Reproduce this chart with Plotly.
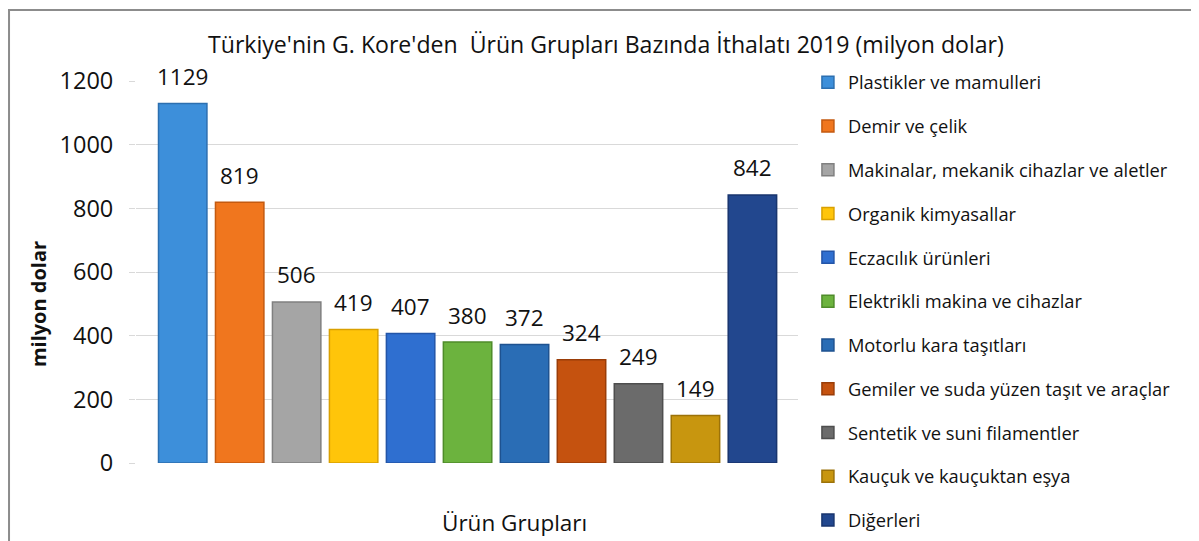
import plotly.graph_objects as go

categories = [
    "Plastikler ve mamulleri",
    "Demir ve çelik",
    "Makinalar, mekanik cihazlar ve aletler",
    "Organik kimyasallar",
    "Eczacılık ürünleri",
    "Elektrikli makina ve cihazlar",
    "Motorlu kara taşıtları",
    "Gemiler ve suda yüzen taşıt ve araçlar",
    "Sentetik ve suni filamentler",
    "Kauçuk ve kauçuktan eşya",
    "Diğerleri",
]
values = [1129, 819, 506, 419, 407, 380, 372, 324, 249, 149, 842]
colors = ["#3D8FDA", "#F0761E", "#A5A5A5", "#FFC50A", "#2F6FD0", "#6CB33E",
          "#2A6DB5", "#C5520F", "#6B6B6B", "#C8960F", "#22478E"]
edge_colors = ["#2C6FB0", "#C45A10", "#808080", "#D9A000", "#2355A8", "#4F8C2A",
               "#1E5290", "#9A3D08", "#4E4E4E", "#9C7208", "#18356E"]
y_ticks = [0, 200, 400, 600, 800, 1000, 1200]

title_text = "Türkiye'nin G. Kore'den\u00a0 Ürün Grupları Bazında İthalatı 2019 (milyon dolar)"
y_title = "milyon dolar"
x_title = "Ürün Grupları"

FONT = "Open Sans, Noto Sans, sans-serif"

fig = go.Figure()
for i, (cat, val) in enumerate(zip(categories, values)):
    fig.add_trace(go.Bar(
        x=[i], y=[val], name=cat,
        width=0.85,
        marker=dict(color=colors[i], line=dict(color=edge_colors[i], width=1.5)),
        legendgroup=f"g{i}",
        hoverinfo="name+y",
    ))
    fig.add_annotation(
        x=i, y=val, xref="x", yref="y", text=str(val), showarrow=False,
        yanchor="middle", yshift=27,
        font=dict(family=FONT, size=22.5, color="#111111"),
    )

fig.add_annotation(x=0.71, y=1.097, xref="paper", yref="paper", text=title_text,
                   showarrow=False, xanchor="center", yanchor="middle",
                   font=dict(family=FONT, size=23.1, color="#111111"))
fig.add_annotation(x=-0.148, y=0.416, xref="paper", yref="paper", text=f"<b>{y_title}</b>",
                   showarrow=False, textangle=-90, xanchor="center", yanchor="middle",
                   font=dict(family=FONT, size=20, color="#111111"))
fig.add_annotation(x=0.5725, y=-0.157, xref="paper", yref="paper", text=x_title,
                   showarrow=False, xanchor="center", yanchor="middle",
                   font=dict(family=FONT, size=22.5, color="#111111"))

fig.add_shape(type="rect", xref="paper", yref="paper",
              x0=-0.1918, x1=1.601, y0=-0.4, y1=1.186,
              line=dict(color="#8c8c8c", width=2), fillcolor="rgba(0,0,0,0)", layer="below")

fig.update_layout(
    width=1191, height=533,
    margin=dict(l=128, r=401, t=73, b=78, autoexpand=False),
    paper_bgcolor="white", plot_bgcolor="white",
    barmode="overlay",
    font=dict(family=FONT, color="#111111"),
    showlegend=True,
    legend=dict(
        x=1.015, y=1.045, xanchor="left", yanchor="top",
        font=dict(family=FONT, size=18.3, color="#111111"),
        tracegroupgap=17, bgcolor="rgba(0,0,0,0)",
        traceorder="grouped", maxheight=700,
    ),
    xaxis=dict(range=[-0.82, 10.8], showticklabels=False, showgrid=False,
               zeroline=False, showline=False, ticks=""),
    yaxis=dict(range=[0, 1200], tickvals=y_ticks, showgrid=True, gridcolor="#d9d9d9",
               gridwidth=1, zeroline=False, showline=False,
               ticks="outside", ticklen=6, tickcolor="#d9d9d9",
               ticklabelstandoff=11,
               tickfont=dict(family=FONT, size=23.5, color="#111111")),
)

fig.write_html("out.html")
